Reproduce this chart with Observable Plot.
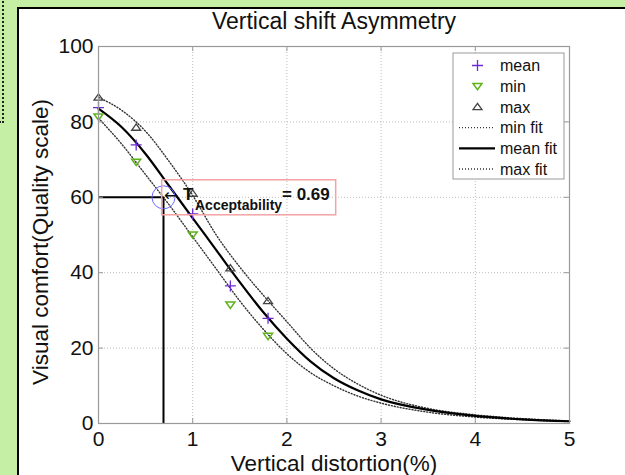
<!DOCTYPE html>
<html><head><meta charset="utf-8">
<script src="https://cdn.jsdelivr.net/npm/d3@7"></script>
<script src="https://cdn.jsdelivr.net/npm/@observablehq/plot@0.6"></script>
<style>
html,body{margin:0;padding:0;}
body{width:625px;height:475px;overflow:hidden;background:#c6efa6;position:relative;font-family:"Liberation Sans",Arial,sans-serif;}
#side{position:absolute;left:-8px;top:-8px;width:8px;height:127px;border:2px dotted #222;}
#panel{position:absolute;left:17px;top:7px;width:700px;height:600px;background:#fff;border-left:2px solid #000;border-top:2px solid #000;}
#chart{position:absolute;left:0;top:0;}
</style></head><body>
<div id="side"></div><div id="panel"></div><div id="chart"></div>
<script>
// ---- data ----
const xTicks = [0, 1, 2, 3, 4, 5];
const yTicks = [0, 20, 40, 60, 80, 100];
const pointX = [0, 0.4, 1.0, 1.4, 1.8];
const meanVals = [83.8, 73.9, 55.6, 36.5, 27.9];
const minVals  = [81.4, 69.4, 50.1, 31.5, 23.2];
const maxVals  = [86.5, 78.5, 61.0, 41.2, 32.5];
const fitX    = [0, 0.25, 0.5, 0.75, 1, 1.25, 1.5, 1.75, 2, 2.25, 2.5, 2.75, 3, 3.5, 4, 4.5, 5];
const meanFit = [83.5, 78.5, 71.5, 63, 54.5, 46, 37.5, 29.5, 22.5, 16.5, 12, 8.8, 6.4, 3.6, 2.0, 1.1, 0.6];
const minFit  = [81, 74, 66, 58, 49.5, 41, 32.5, 25, 18.5, 13.5, 10, 7.3, 5.4, 3.0, 1.7, 1.0, 0.5];
const maxFit  = [86.5, 83, 77.5, 69.5, 60.5, 50, 41.5, 34, 27, 20, 14.5, 10.5, 7.5, 4, 2.3, 1.3, 0.7];
const thresholdX = 0.69;
const thresholdY = 60;
const titleText = "Vertical shift Asymmetry";
const xLabel = "Vertical distortion(%)";
const yLabel = "Visual comfort(Quality scale)";
const legendLabels = ["mean", "min", "max", "min fit", "mean fit", "max fit"];

// ---- build tables ----
const pts = (vals) => pointX.map((x, i) => ({x, y: vals[i]}));
const fit = (vals) => fitX.map((x, i) => ({x, y: vals[i]}));

const W = 625, H = 475, mL = 98, mR = 56, mT = 46, mB = 52;
const pw = W - mL - mR, ph = H - mT - mB;
const font = '"Liberation Sans", Arial, sans-serif';
const cMean = "#6f2ad6", cMin = "#5fb31a", cMax = "#444";

const plus = {draw(c, s){const r = Math.sqrt(s/Math.PI); c.moveTo(-r,0); c.lineTo(r,0); c.moveTo(0,-r); c.lineTo(0,r);}};
const triDown = {draw(c, s){const r = Math.sqrt(s/Math.PI); c.moveTo(-r,-r*0.6); c.lineTo(r,-r*0.6); c.lineTo(0,r*0.8); c.closePath();}};
const triUp = {draw(c, s){const r = Math.sqrt(s/Math.PI); c.moveTo(-r,r*0.6); c.lineTo(r,r*0.6); c.lineTo(0,-r*0.8); c.closePath();}};

const dotted = {stroke: "#333", strokeWidth: 1.4, strokeDasharray: "1,2", curve: "monotone-x"};

const chart = Plot.plot({
  width: W, height: H, marginLeft: mL, marginRight: mR, marginTop: mT, marginBottom: mB,
  style: {background: "transparent", fontFamily: font, fontSize: "21px", color: "#111", overflow: "visible"},
  x: {domain: [xTicks[0], xTicks[xTicks.length-1]]},
  y: {domain: [yTicks[0], yTicks[yTicks.length-1]]},
  marks: [
    Plot.gridX(xTicks.slice(1, -1), {stroke: "#bdbdbd", strokeOpacity: 1, strokeDasharray: "1,2"}),
    Plot.gridY(yTicks.slice(1, -1), {stroke: "#bdbdbd", strokeOpacity: 1, strokeDasharray: "1,2"}),
    Plot.line(fit(minFit), {x: "x", y: "y", ...dotted}),
    Plot.line(fit(maxFit), {x: "x", y: "y", ...dotted}),
    Plot.line(fit(meanFit), {x: "x", y: "y", stroke: "#000", strokeWidth: 2.2, curve: "monotone-x"}),
    Plot.ruleY([thresholdY], {x1: xTicks[0], x2: thresholdX, stroke: "#000", strokeWidth: 2}),
    Plot.ruleX([thresholdX], {y1: yTicks[0], y2: thresholdY, stroke: "#000", strokeWidth: 2}),
    Plot.dot(pts(meanVals), {x: "x", y: "y", symbol: plus, r: 5.5, stroke: cMean, strokeWidth: 1.3, fill: "none"}),
    Plot.dot(pts(minVals), {x: "x", y: "y", symbol: triDown, r: 4.5, stroke: cMin, strokeWidth: 1.5, fill: "none"}),
    Plot.dot(pts(maxVals), {x: "x", y: "y", symbol: triUp, r: 4.5, stroke: cMax, strokeWidth: 1.3, fill: "none"}),
    Plot.dot([{x: thresholdX, y: thresholdY}], {x: "x", y: "y", r: 11.5, stroke: "#6a6aff", strokeWidth: 1, fill: "none"}),
    Plot.frame({stroke: "#999", strokeWidth: 1.2}),
    Plot.tickX(xTicks, {x: d => d, insetTop: ph - 5, stroke: "#999"}),
    Plot.tickX(xTicks, {x: d => d, insetBottom: ph - 5, stroke: "#999"}),
    Plot.tickY(yTicks, {y: d => d, insetRight: pw - 5, stroke: "#999"}),
    Plot.tickY(yTicks, {y: d => d, insetLeft: pw - 5, stroke: "#999"}),
    Plot.axisX(xTicks, {tickSize: 0, tickPadding: 8, fontSize: 21, label: null}),
    Plot.axisY(yTicks, {tickSize: 0, tickPadding: 5, fontSize: 21, label: null}),
    Plot.text([titleText], {text: d => d, frameAnchor: "top", lineAnchor: "middle", dy: -25, fontSize: 23, fill: "#111"}),
    Plot.text([xLabel], {text: d => d, frameAnchor: "bottom", lineAnchor: "middle", dy: 40, fontSize: 22.5, fill: "#111"}),
    Plot.text([yLabel], {text: d => d, frameAnchor: "left", textAnchor: "middle", lineAnchor: "middle", rotate: -90, dx: -58, dy: 7, fontSize: 22.5, fill: "#111"})
  ]
});
document.getElementById("chart").appendChild(chart);

// ---- annotation (positioned with the plot's scales) ----
const sx = chart.scale("x"), sy = chart.scale("y");
const px = sx.apply(thresholdX), py = sy.apply(thresholdY);
const svg = d3.select(chart);
const ann = svg.append("g").attr("font-family", font).attr("fill", "#111").attr("text-anchor", "start");
ann.append("rect").attr("x", px - 1.3).attr("y", py - 17).attr("width", 174).attr("height", 35)
  .attr("fill", "none").attr("stroke", "#f3a3a3").attr("stroke-width", 1.5);
ann.append("text").attr("x", px + 1).attr("y", py + 4).attr("font-size", 17)
  .attr("font-family", '"DejaVu Sans", "Liberation Sans", sans-serif').text("\u2190");
ann.append("text").attr("x", px + 20).attr("y", py + 3).attr("font-size", 17).attr("font-weight", "bold").text("T");
ann.append("text").attr("x", px + 32).attr("y", py + 13.5).attr("font-size", 14).attr("font-weight", "bold").text("Acceptability");
ann.append("text").attr("x", px + 119).attr("y", py + 3).attr("font-size", 17).attr("font-weight", "bold").text("= " + thresholdX.toFixed(2));

// ---- legend ----
const lx = W - mR - 116, ly = mT + 7;
const leg = svg.append("g").attr("font-family", font).attr("text-anchor", "start");
leg.append("rect").attr("x", lx).attr("y", ly).attr("width", 111).attr("height", 126)
  .attr("fill", "#fff").attr("stroke", "#999").attr("stroke-width", 1);
const symX = lx + 24.5, lineX1 = lx + 6, lineX2 = lx + 42, txtX = lx + 47;
legendLabels.forEach((lab, i) => {
  const y = ly + 12.5 + i * 20.7;
  const p = d3.path();
  if (i === 0) { plus.draw(p, Math.PI * 5.5 * 5.5); leg.append("path").attr("d", p.toString()).attr("transform", `translate(${symX},${y})`).attr("stroke", cMean).attr("stroke-width", 1.3).attr("fill", "none"); }
  if (i === 1) { triDown.draw(p, Math.PI * 4.5 * 4.5); leg.append("path").attr("d", p.toString()).attr("transform", `translate(${symX},${y})`).attr("stroke", cMin).attr("stroke-width", 1.5).attr("fill", "none"); }
  if (i === 2) { triUp.draw(p, Math.PI * 4.5 * 4.5); leg.append("path").attr("d", p.toString()).attr("transform", `translate(${symX},${y})`).attr("stroke", cMax).attr("stroke-width", 1.3).attr("fill", "none"); }
  if (i === 3 || i === 5) leg.append("line").attr("x1", lineX1).attr("x2", lineX2).attr("y1", y).attr("y2", y).attr("stroke", "#333").attr("stroke-width", 1.4).attr("stroke-dasharray", "1,2");
  if (i === 4) leg.append("line").attr("x1", lineX1).attr("x2", lineX2).attr("y1", y).attr("y2", y).attr("stroke", "#000").attr("stroke-width", 2.2);
  leg.append("text").attr("x", txtX).attr("y", y).attr("dy", "0.35em").attr("font-size", 16).attr("fill", "#111").text(lab);
});
</script>
</body></html>
